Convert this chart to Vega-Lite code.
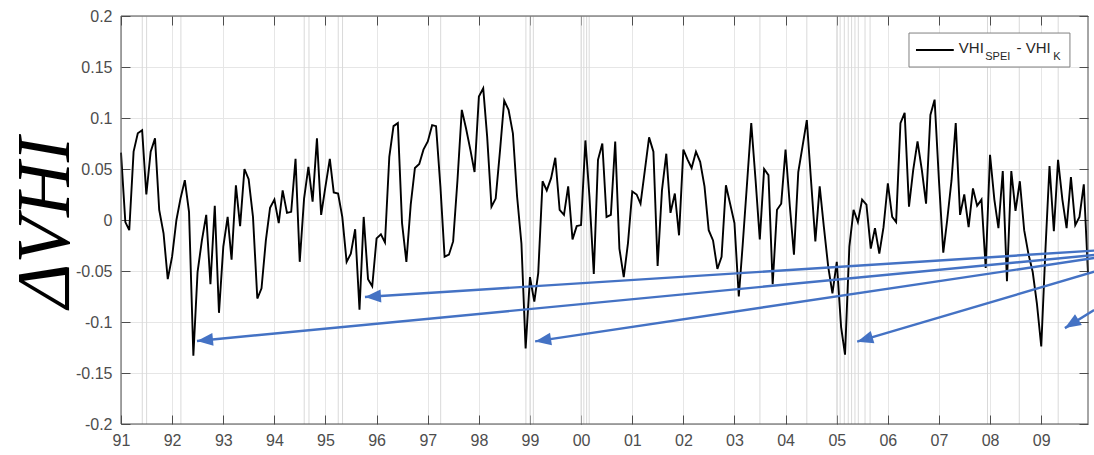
{
  "$schema": "https://vega.github.io/schema/vega-lite/v6.json",
  "width": 967,
  "height": 408,
  "autosize": {"type": "none"},
  "padding": {"left": 121, "top": 16, "right": 6, "bottom": 31},
  "background": "white",
  "config": {
    "view": {"stroke": null},
    "axis": {
      "labelFont": "Liberation Sans",
      "labelFontSize": 16,
      "labelColor": "#4d4d4d",
      "gridColor": "#e6e6e6",
      "gridOpacity": 1,
      "tickColor": "#4d4d4d",
      "tickWidth": 1
    }
  },
  "datasets": {
    "series": [
      {"d":"1991-01","v":0.066},{"d":"1991-02","v":-0.002},{"d":"1991-03","v":-0.010},{"d":"1991-04","v":0.067},{"d":"1991-05","v":0.085},{"d":"1991-06","v":0.088},{"d":"1991-07","v":0.025},{"d":"1991-08","v":0.067},{"d":"1991-09","v":0.080},{"d":"1991-10","v":0.010},{"d":"1991-11","v":-0.013},{"d":"1991-12","v":-0.058},
      {"d":"1992-01","v":-0.036},{"d":"1992-02","v":0.000},{"d":"1992-03","v":0.021},{"d":"1992-04","v":0.039},{"d":"1992-05","v":0.008},{"d":"1992-06","v":-0.133},{"d":"1992-07","v":-0.051},{"d":"1992-08","v":-0.020},{"d":"1992-09","v":0.005},{"d":"1992-10","v":-0.063},{"d":"1992-11","v":0.014},{"d":"1992-12","v":-0.091},
      {"d":"1993-01","v":-0.026},{"d":"1993-02","v":0.003},{"d":"1993-03","v":-0.039},{"d":"1993-04","v":0.034},{"d":"1993-05","v":-0.006},{"d":"1993-06","v":0.050},{"d":"1993-07","v":0.040},{"d":"1993-08","v":0.003},{"d":"1993-09","v":-0.077},{"d":"1993-10","v":-0.067},{"d":"1993-11","v":-0.020},{"d":"1993-12","v":0.012},
      {"d":"1994-01","v":0.020},{"d":"1994-02","v":-0.003},{"d":"1994-03","v":0.029},{"d":"1994-04","v":0.007},{"d":"1994-05","v":0.008},{"d":"1994-06","v":0.060},{"d":"1994-07","v":-0.041},{"d":"1994-08","v":0.021},{"d":"1994-09","v":0.052},{"d":"1994-10","v":0.018},{"d":"1994-11","v":0.080},{"d":"1994-12","v":0.005},
      {"d":"1995-01","v":0.033},{"d":"1995-02","v":0.060},{"d":"1995-03","v":0.027},{"d":"1995-04","v":0.026},{"d":"1995-05","v":0.003},{"d":"1995-06","v":-0.041},{"d":"1995-07","v":-0.033},{"d":"1995-08","v":-0.009},{"d":"1995-09","v":-0.088},{"d":"1995-10","v":0.003},{"d":"1995-11","v":-0.058},{"d":"1995-12","v":-0.065},
      {"d":"1996-01","v":-0.018},{"d":"1996-02","v":-0.014},{"d":"1996-03","v":-0.022},{"d":"1996-04","v":0.062},{"d":"1996-05","v":0.092},{"d":"1996-06","v":0.095},{"d":"1996-07","v":-0.003},{"d":"1996-08","v":-0.041},{"d":"1996-09","v":0.015},{"d":"1996-10","v":0.051},{"d":"1996-11","v":0.055},{"d":"1996-12","v":0.069},
      {"d":"1997-01","v":0.077},{"d":"1997-02","v":0.093},{"d":"1997-03","v":0.092},{"d":"1997-04","v":0.033},{"d":"1997-05","v":-0.036},{"d":"1997-06","v":-0.034},{"d":"1997-07","v":-0.021},{"d":"1997-08","v":0.039},{"d":"1997-09","v":0.108},{"d":"1997-10","v":0.090},{"d":"1997-11","v":0.069},{"d":"1997-12","v":0.047},
      {"d":"1998-01","v":0.121},{"d":"1998-02","v":0.129},{"d":"1998-03","v":0.082},{"d":"1998-04","v":0.013},{"d":"1998-05","v":0.021},{"d":"1998-06","v":0.068},{"d":"1998-07","v":0.117},{"d":"1998-08","v":0.108},{"d":"1998-09","v":0.085},{"d":"1998-10","v":0.023},{"d":"1998-11","v":-0.023},{"d":"1998-12","v":-0.126},
      {"d":"1999-01","v":-0.056},{"d":"1999-02","v":-0.080},{"d":"1999-03","v":-0.052},{"d":"1999-04","v":0.038},{"d":"1999-05","v":0.029},{"d":"1999-06","v":0.041},{"d":"1999-07","v":0.061},{"d":"1999-08","v":0.010},{"d":"1999-09","v":0.005},{"d":"1999-10","v":0.033},{"d":"1999-11","v":-0.019},{"d":"1999-12","v":-0.006},
      {"d":"2000-01","v":-0.005},{"d":"2000-02","v":0.078},{"d":"2000-03","v":0.023},{"d":"2000-04","v":-0.053},{"d":"2000-05","v":0.059},{"d":"2000-06","v":0.075},{"d":"2000-07","v":0.003},{"d":"2000-08","v":0.005},{"d":"2000-09","v":0.077},{"d":"2000-10","v":-0.028},{"d":"2000-11","v":-0.056},{"d":"2000-12","v":-0.023},
      {"d":"2001-01","v":0.028},{"d":"2001-02","v":0.025},{"d":"2001-03","v":0.016},{"d":"2001-04","v":0.049},{"d":"2001-05","v":0.081},{"d":"2001-06","v":0.067},{"d":"2001-07","v":-0.045},{"d":"2001-08","v":0.029},{"d":"2001-09","v":0.065},{"d":"2001-10","v":0.007},{"d":"2001-11","v":0.026},{"d":"2001-12","v":-0.015},
      {"d":"2002-01","v":0.069},{"d":"2002-02","v":0.059},{"d":"2002-03","v":0.051},{"d":"2002-04","v":0.067},{"d":"2002-05","v":0.057},{"d":"2002-06","v":0.033},{"d":"2002-07","v":-0.010},{"d":"2002-08","v":-0.020},{"d":"2002-09","v":-0.048},{"d":"2002-10","v":-0.036},{"d":"2002-11","v":0.034},{"d":"2002-12","v":0.016},
      {"d":"2003-01","v":-0.003},{"d":"2003-02","v":-0.075},{"d":"2003-03","v":-0.024},{"d":"2003-04","v":0.036},{"d":"2003-05","v":0.095},{"d":"2003-06","v":0.039},{"d":"2003-07","v":-0.019},{"d":"2003-08","v":0.050},{"d":"2003-09","v":0.044},{"d":"2003-10","v":-0.063},{"d":"2003-11","v":0.010},{"d":"2003-12","v":0.016},
      {"d":"2004-01","v":0.069},{"d":"2004-02","v":0.013},{"d":"2004-03","v":-0.034},{"d":"2004-04","v":0.047},{"d":"2004-05","v":0.072},{"d":"2004-06","v":0.098},{"d":"2004-07","v":0.039},{"d":"2004-08","v":-0.021},{"d":"2004-09","v":0.033},{"d":"2004-10","v":-0.007},{"d":"2004-11","v":-0.046},{"d":"2004-12","v":-0.072},
      {"d":"2005-01","v":-0.041},{"d":"2005-02","v":-0.105},{"d":"2005-03","v":-0.132},{"d":"2005-04","v":-0.026},{"d":"2005-05","v":0.010},{"d":"2005-06","v":-0.002},{"d":"2005-07","v":0.020},{"d":"2005-08","v":0.015},{"d":"2005-09","v":-0.028},{"d":"2005-10","v":-0.008},{"d":"2005-11","v":-0.033},{"d":"2005-12","v":-0.007},
      {"d":"2006-01","v":0.036},{"d":"2006-02","v":0.003},{"d":"2006-03","v":-0.002},{"d":"2006-04","v":0.095},{"d":"2006-05","v":0.105},{"d":"2006-06","v":0.013},{"d":"2006-07","v":0.049},{"d":"2006-08","v":0.077},{"d":"2006-09","v":0.049},{"d":"2006-10","v":0.016},{"d":"2006-11","v":0.103},{"d":"2006-12","v":0.118},
      {"d":"2007-01","v":0.039},{"d":"2007-02","v":-0.032},{"d":"2007-03","v":0.000},{"d":"2007-04","v":0.039},{"d":"2007-05","v":0.095},{"d":"2007-06","v":0.005},{"d":"2007-07","v":0.025},{"d":"2007-08","v":-0.007},{"d":"2007-09","v":0.031},{"d":"2007-10","v":0.014},{"d":"2007-11","v":0.020},{"d":"2007-12","v":-0.047},
      {"d":"2008-01","v":0.064},{"d":"2008-02","v":0.020},{"d":"2008-03","v":-0.008},{"d":"2008-04","v":0.048},{"d":"2008-05","v":-0.060},{"d":"2008-06","v":0.048},{"d":"2008-07","v":0.009},{"d":"2008-08","v":0.038},{"d":"2008-09","v":-0.010},{"d":"2008-10","v":-0.033},{"d":"2008-11","v":-0.051},{"d":"2008-12","v":-0.082},
      {"d":"2009-01","v":-0.124},{"d":"2009-02","v":-0.026},{"d":"2009-03","v":0.053},{"d":"2009-04","v":-0.011},{"d":"2009-05","v":0.059},{"d":"2009-06","v":0.020},{"d":"2009-07","v":-0.008},{"d":"2009-08","v":0.042},{"d":"2009-09","v":-0.005},{"d":"2009-10","v":0.003},{"d":"2009-11","v":0.035},{"d":"2009-12","v":-0.052}
    ],
    "marks": [
      {"d":"1991-06-02"},{"d":"1991-07-03"},{"d":"1992-03-04"},{"d":"1994-08-02"},{"d":"1994-09-05"},{"d":"1995-04-02"},{"d":"1995-05-03"},{"d":"1997-04-03"},{"d":"1998-12-03"},{"d":"1999-01-01"},{"d":"1999-01-25"},{"d":"2000-01-01"},{"d":"2000-01-21"},{"d":"2000-02-10"},{"d":"2000-02-28"},{"d":"2003-07-02"},{"d":"2004-06-01"},{"d":"2005-01-01"},{"d":"2005-01-25"},{"d":"2005-02-24"},{"d":"2005-03-24"},{"d":"2005-04-17"},{"d":"2005-05-11"},{"d":"2005-06-04"},{"d":"2005-07-22"},{"d":"2005-08-27"},{"d":"2007-12-14"},{"d":"2008-07-28"},{"d":"2009-05-02"}
    ],
    "frame": [{"d":"1991-01-01","d2":"2009-12-01","v":-0.2,"v2":0.2}],
    "legendbox": [{"d":"2006-06-01","d2":"2009-07-25","v":0.1833,"v2":0.15}],
    "legendline": [{"d":"2006-07-21","d2":"2007-04-17","v":0.1667}],
    "legendtext": [
      {"d":"2007-05-23","v":0.1634,"t":"VHI","s":15},
      {"d":"2007-11-28","v":0.1569,"t":"SPEI","s":11},
      {"d":"2008-07-08","v":0.1634,"t":"- VHI","s":15},
      {"d":"2009-03-27","v":0.1569,"t":"K","s":11}
    ],
    "arrows": [
      {"d":"2010-01-14","v":-0.030,"d2":"1995-10-10","v2":-0.0755,"a":266.4},
      {"d":"2010-01-14","v":-0.0343,"d2":"1992-06-27","v2":-0.1186,"a":264.5},
      {"d":"2010-01-14","v":-0.0373,"d2":"1999-02-07","v2":-0.119,"a":261.5},
      {"d":"2010-01-14","v":-0.0507,"d2":"2005-05-27","v2":-0.1193,"a":253.5},
      {"d":"2010-01-14","v":-0.0882,"d2":"2009-06-19","v2":-0.106,"a":237.7}
    ]
  },
  "resolve": {"axis": {"x": "independent", "y": "independent"}},
  "layer": [
    {
      "data": {"name": "marks"},
      "mark": {"type": "rule", "color": "#d9d9d9", "strokeWidth": 1},
      "encoding": {
        "x": {"field": "d", "type": "temporal",
          "scale": {"type": "utc", "domain": [{"year":1991,"month":1,"date":1,"utc":true},{"year":2009,"month":12,"date":1,"utc":true}]},
          "axis": {"orient": "top", "labels": false, "grid": false, "domain": false, "title": null, "tickSize": -9, "tickCount": {"interval": "year", "step": 1}}}
      }
    },
    {
      "data": {"name": "series"},
      "mark": {"type": "line", "color": "#000000", "strokeWidth": 1.9},
      "encoding": {
        "x": {"field": "d", "type": "temporal",
          "scale": {"type": "utc", "domain": [{"year":1991,"month":1,"date":1,"utc":true},{"year":2009,"month":12,"date":1,"utc":true}]},
          "axis": {"orient": "bottom", "title": null, "labelExpr": "utcFormat(datum.value, '%y')", "labelOverlap": false, "labelFlush": false, "labelAlign": "center", "tickCount": {"interval": "year", "step": 1}, "grid": true, "domain": false, "tickSize": -9, "labelPadding": 17}},
        "y": {"field": "v", "type": "quantitative",
          "scale": {"domain": [-0.2, 0.2], "nice": false, "zero": false},
          "axis": {"orient": "left", "values": [-0.2,-0.15,-0.1,-0.05,0,0.05,0.1,0.15,0.2], "labelExpr": "'' + round(datum.value*100)/100", "labelFlush": false, "grid": true, "domain": false, "tickSize": -9, "labelPadding": 18,
            "title": "ΔVHI", "titleFont": "Liberation Serif", "titleFontSize": 76, "titleFontStyle": "italic", "titleFontWeight": "normal", "titleColor": "#000000",
            "titleAngle": 270, "titleBaseline": "alphabetic", "titleAlign": "center", "titleX": -53, "titleY": 206}}
      }
    },
    {
      "data": {"name": "frame"},
      "mark": {"type": "rect", "filled": false, "stroke": "#4d4d4d", "strokeWidth": 1},
      "encoding": {
        "x": {"field": "d", "type": "temporal", "scale": {"type": "utc", "domain": [{"year":1991,"month":1,"date":1,"utc":true},{"year":2009,"month":12,"date":1,"utc":true}]}, "axis": null},
        "x2": {"field": "d2"},
        "y": {"field": "v", "type": "quantitative", "scale": {"domain": [-0.2, 0.2], "nice": false, "zero": false},
          "axis": {"orient": "right", "labels": false, "grid": false, "domain": false, "title": null, "tickSize": -9, "values": [-0.2,-0.15,-0.1,-0.05,0,0.05,0.1,0.15,0.2]}},
        "y2": {"field": "v2"}
      }
    },
    {
      "data": {"name": "legendbox"},
      "mark": {"type": "rect", "fill": "#ffffff", "stroke": "#808080", "strokeWidth": 1},
      "encoding": {
        "x": {"field": "d", "type": "temporal", "scale": {"type": "utc", "domain": [{"year":1991,"month":1,"date":1,"utc":true},{"year":2009,"month":12,"date":1,"utc":true}]}, "axis": null},
        "x2": {"field": "d2"},
        "y": {"field": "v", "type": "quantitative", "scale": {"domain": [-0.2, 0.2], "nice": false, "zero": false}, "axis": null},
        "y2": {"field": "v2"}
      }
    },
    {
      "data": {"name": "legendline"},
      "mark": {"type": "rule", "color": "#000000", "strokeWidth": 2},
      "encoding": {
        "x": {"field": "d", "type": "temporal", "scale": {"type": "utc", "domain": [{"year":1991,"month":1,"date":1,"utc":true},{"year":2009,"month":12,"date":1,"utc":true}]}, "axis": null},
        "x2": {"field": "d2"},
        "y": {"field": "v", "type": "quantitative", "scale": {"domain": [-0.2, 0.2], "nice": false, "zero": false}, "axis": null}
      }
    },
    {
      "data": {"name": "legendtext"},
      "mark": {"type": "text", "align": "left", "baseline": "alphabetic", "font": "Liberation Sans", "color": "#262626"},
      "encoding": {
        "x": {"field": "d", "type": "temporal", "scale": {"type": "utc", "domain": [{"year":1991,"month":1,"date":1,"utc":true},{"year":2009,"month":12,"date":1,"utc":true}]}, "axis": null},
        "y": {"field": "v", "type": "quantitative", "scale": {"domain": [-0.2, 0.2], "nice": false, "zero": false}, "axis": null},
        "text": {"field": "t"},
        "size": {"field": "s", "type": "quantitative", "scale": null, "legend": null}
      }
    },
    {
      "data": {"name": "arrows"},
      "mark": {"type": "rule", "color": "#4472C4", "strokeWidth": 2.4},
      "encoding": {
        "x": {"field": "d", "type": "temporal", "scale": {"type": "utc", "domain": [{"year":1991,"month":1,"date":1,"utc":true},{"year":2009,"month":12,"date":1,"utc":true}]}, "axis": null},
        "x2": {"field": "d2"},
        "y": {"field": "v", "type": "quantitative", "scale": {"domain": [-0.2, 0.2], "nice": false, "zero": false}, "axis": null},
        "y2": {"field": "v2"}
      }
    },
    {
      "data": {"name": "arrows"},
      "mark": {"type": "point", "shape": "M0,0L0.8,2L-0.8,2Z", "filled": true, "size": 256, "color": "#4472C4", "opacity": 1, "strokeWidth": 0},
      "encoding": {
        "x": {"field": "d2", "type": "temporal", "scale": {"type": "utc", "domain": [{"year":1991,"month":1,"date":1,"utc":true},{"year":2009,"month":12,"date":1,"utc":true}]}, "axis": null},
        "y": {"field": "v2", "type": "quantitative", "scale": {"domain": [-0.2, 0.2], "nice": false, "zero": false}, "axis": null},
        "angle": {"field": "a", "type": "quantitative", "scale": null}
      }
    }
  ]
}
